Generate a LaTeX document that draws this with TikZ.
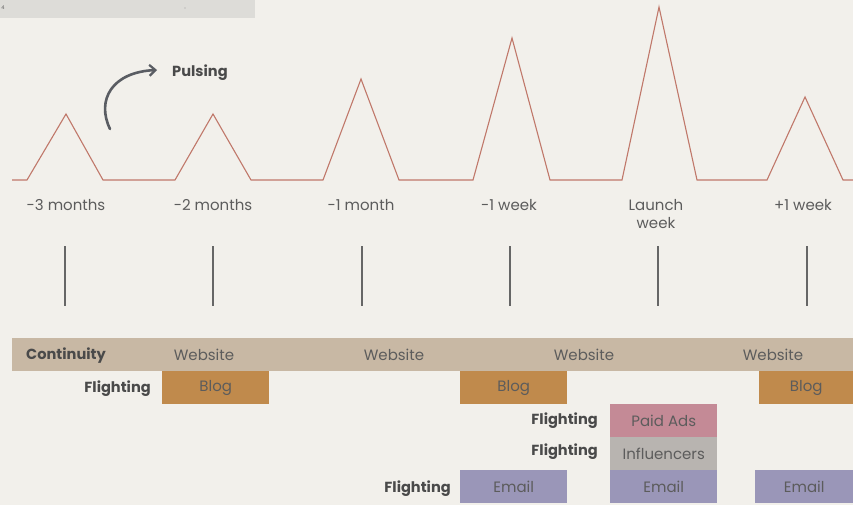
\documentclass[tikz,border=0pt]{standalone}
\usepackage{fontspec}
\setmainfont{Poppins}
\usetikzlibrary{arrows.meta}
\definecolor{bg}{HTML}{F2F0EB}
\definecolor{topbar}{HTML}{DDDCD8}
\definecolor{peak}{HTML}{C0786A}
\definecolor{tick}{HTML}{666666}
\definecolor{txt}{HTML}{5C5C5C}
\definecolor{btxt}{HTML}{4A4A4A}
\definecolor{cont}{HTML}{C8B8A4}
\definecolor{blog}{HTML}{C08A4C}
\definecolor{paid}{HTML}{C48A96}
\definecolor{infl}{HTML}{B8B4B0}
\definecolor{mail}{HTML}{9A96B8}
\definecolor{arr}{HTML}{5A5D63}
\tikzset{
  lbl/.style={text=txt,font=\fontsize{15}{18.5}\selectfont,align=center,inner sep=0pt},
  blbl/.style={text=btxt,font=\bfseries\fontsize{14.6}{17}\selectfont,inner sep=0pt},
  bar/.style={minimum height=33pt,inner sep=0pt,text=txt,font=\fontsize{15}{18}\selectfont,anchor=north west},
  vt/.style={draw=tick,line width=1.2pt},
}
\begin{document}
\begin{tikzpicture}[x=1pt,y=-1pt]
\useasboundingbox (0,0) rectangle (853,505);
\fill[bg] (0,0) rectangle (853,505);
\fill[topbar] (0,0) rectangle (255,18);
\node[text=txt,font=\fontsize{5}{6}\selectfont,inner sep=0pt] (pg) at (3,8) {4};
\fill[txt!60] (185,8) circle (0.6);
% pulse line
\draw[peak,line width=1.1pt,line join=miter]
  (12,180) -- (27,180) -- (66,114) -- (103,180) -- (175,180) -- (213,114) -- (251,180)
  -- (323,180) -- (361,79) -- (399,180) -- (473,180) -- (512,38) -- (550,180)
  -- (622,180) -- (659,7) -- (697,180) -- (767,180) -- (805,97) -- (843,180) -- (853,180);
% labels
\node[lbl] (l1) at (66,205) {-3 months};
\node[lbl] (l2) at (213,205) {-2 months};
\node[lbl] (l3) at (361,205) {-1 month};
\node[lbl] (l4) at (509,205) {-1 week};
\node[lbl] (l5) at (656,214) {Launch\\week};
\node[lbl] (l6) at (803,205) {+1 week};
% ticks
\coordinate (t1a) at (65,246); \coordinate (t1b) at (65,306);
\coordinate (t2a) at (213,246); \coordinate (t2b) at (213,306);
\coordinate (t3a) at (362,246); \coordinate (t3b) at (362,306);
\coordinate (t4a) at (510,246); \coordinate (t4b) at (510,306);
\coordinate (t5a) at (658,246); \coordinate (t5b) at (658,306);
\coordinate (t6a) at (807,246); \coordinate (t6b) at (807,306);
\foreach \i in {1,...,6} { \draw[vt] (t\i a) -- (t\i b); }
% pulsing arrow
\coordinate (pa) at (110,129);
\coordinate (pb) at (157,70);
\draw[arr,line width=2.6pt,line cap=round,-{Straight Barb[length=6pt,width=11pt,line width=2.2pt]}]
  (pa) .. controls (96,100) and (112,72) .. (pb);
\node[blbl,anchor=west] (puls) at (172,73) {Pulsing};
% continuity bar
\node[bar,fill=cont,minimum width=841pt] (contbar) at (12,338) {};
\node[blbl] (conttxt) at (66,356) {Continuity};
\node[lbl] (w1) at (204,355) {Website};
\node[lbl] (w2) at (394,355) {Website};
\node[lbl] (w3) at (584,355) {Website};
\node[lbl] (w4) at (773,355) {Website};
% blog
\node[bar,fill=blog,minimum width=107pt] (b1) at (162,371) {Blog};
\node[bar,fill=blog,minimum width=107pt] (b2) at (460,371) {Blog};
\node[bar,fill=blog,minimum width=94pt] (b3) at (759,371) {Blog};
\node[blbl,anchor=east] (f1) at (151,389) {Flighting};
% paid / influencers
\node[bar,fill=paid,minimum width=107pt] (pad) at (610,404) {Paid Ads};
\node[blbl,anchor=east] (f2) at (598,421) {Flighting};
\node[bar,fill=infl,minimum width=107pt] (inf) at (610,437) {Influencers};
\node[blbl,anchor=east] (f3) at (598,452) {Flighting};
% email
\node[bar,fill=mail,minimum width=107pt] (e1) at (460,470) {Email};
\node[bar,fill=mail,minimum width=107pt] (e2) at (610,470) {Email};
\node[bar,fill=mail,minimum width=98pt] (e3) at (755,470) {Email};
\node[blbl,anchor=east] (f4) at (451,489) {Flighting};
\end{tikzpicture}
\end{document}
